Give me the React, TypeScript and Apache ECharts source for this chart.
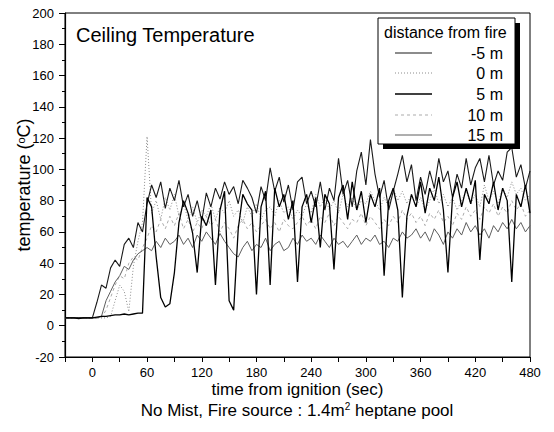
import React, { useEffect, useRef } from "react";
import * as echarts from "echarts";

const timeStart = -30;
const timeStep = 5;
const xTicks = [0, 60, 120, 180, 240, 300, 360, 420, 480];
const legendTitle = "distance from fire";
const seriesNames = ["-5 m", "0 m", "5 m", "10 m", "15 m"];

const dMinus5 = [5, 5, 5, 5, 5, 5, 5,
  15, 26, 24, 37, 42, 38, 52, 56, 50, 66,
  60, 78, 90, 82, 92, 75, 88, 80, 93, 76,
  84, 70, 80, 67, 85, 76, 88, 81, 92, 84,
  89, 78, 93, 88, 82, 72, 89, 80, 101, 86,
  95, 79, 90, 74, 92, 95, 78, 86, 76, 92,
  74, 88, 80, 107, 84, 93, 76, 99, 111, 90,
  119, 97, 82, 93, 74, 86, 97, 109, 92, 103,
  80, 95, 84, 99, 88, 107, 92, 99, 82, 97,
  88, 107, 90, 101, 107, 92, 109, 90, 99, 93,
  111, 114, 95, 103, 88, 99];
const d0 = [5, 5, 5, 5, 5, 5, 5, 5, 5, 5, 6,
  16, 26, 22, 9, 38, 54, 66, 121, 72, 80,
  68, 82, 74, 84, 70, 78, 68, 76, 66, 74,
  70, 78, 68, 76, 72, 80, 70, 74, 66, 76,
  70, 78, 68, 74, 76, 70, 80, 72, 76, 68,
  74, 70, 78, 72, 84, 76, 82, 74, 80, 72,
  84, 76, 82, 74, 80, 78, 86, 80, 74, 82,
  76, 88, 80, 86, 78, 84, 76, 82, 74, 80,
  88, 78, 84, 76, 82, 74, 80, 86, 78, 84,
  76, 90, 80, 86, 78, 88, 82, 92, 84, 88, 80, 84];
const d5 = [5, 5, 5, 4.5, 5, 5, 5, 5.5, 6, 6, 6.5, 7, 7, 7.5, 7, 7.5, 8, 8,
  82, 76, 44, 18, 12, 14, 34, 66, 80, 72,
  59, 34, 70, 64, 74, 26, 74, 86, 16, 10,
  62, 84, 78, 74, 20, 76, 86, 26, 88, 76,
  84, 68, 80, 28, 76, 84, 66, 82, 50, 84,
  78, 36, 82, 90, 68, 92, 74, 86, 66, 84,
  76, 88, 32, 80, 88, 74, 18, 70, 84, 76,
  92, 72, 88, 80, 95, 74, 34, 82, 92, 76,
  88, 78, 93, 42, 84, 78, 92, 74, 88, 80,
  28, 84, 76, 90, 72];
const d10 = [5, 5, 5, 5, 5, 5, 5, 5, 5,
  10, 18, 26, 32, 30, 40, 44, 42, 50, 56,
  64, 60, 68, 62, 70, 64, 72, 62, 68, 60,
  66, 62, 70, 64, 68, 60, 66, 62, 56, 64,
  68, 62, 66, 60, 64, 68, 62, 66, 60, 68,
  64, 62, 66, 70, 64, 68, 62, 70, 66, 72,
  64, 70, 66, 62, 68, 66, 72, 64, 70, 66,
  62, 68, 64, 70, 66, 74, 68, 72, 66, 70,
  64, 72, 68, 74, 66, 70, 64, 72, 68, 76,
  70, 74, 68, 76, 72, 78, 70, 76, 72, 80,
  74, 78, 70, 74];
const d15 = [5, 5, 5, 5, 5, 5, 5, 5, 6,
  16, 22, 28, 32, 38, 36, 42, 46, 48, 50,
  48, 54, 50, 56, 52, 54, 58, 52, 56, 50,
  58, 54, 60, 56, 52, 59, 54, 50, 46, 44,
  50, 54, 48, 52, 50, 56, 48, 52, 54, 48,
  50, 56, 52, 58, 54, 56, 52, 58, 54, 50,
  56, 52, 54, 50, 54, 58, 52, 56, 54, 58,
  52, 54, 50, 56, 54, 60, 56, 58, 62, 56,
  60, 54, 62, 58, 52, 60, 56, 62, 58, 66,
  60, 64, 58, 62, 56, 64, 60, 66, 62, 68,
  62, 66, 60, 64];

const seriesValues = [dMinus5, d0, d5, d10, d15];

const FONT = "'Liberation Sans', Arial, sans-serif";

const STYLES = [
  { color: "#1a1a1a", width: 1.1, dash: null as null | number[], z: 5 },
  { color: "#8c8c8c", width: 1, dash: [1, 2] as null | number[], z: 3 },
  { color: "#000", width: 1.3, dash: null as null | number[], z: 6 },
  { color: "#ababab", width: 1, dash: [3, 3] as null | number[], z: 2 },
  { color: "#5e5e5e", width: 1, dash: null as null | number[], z: 4 },
];

export default function App() {
  const ref = useRef<HTMLDivElement>(null);
  useEffect(() => {
    if (!ref.current) return;
    const chart = echarts.init(ref.current, undefined, { renderer: "svg" });
    const toPairs = (arr: number[]) => arr.map((v, i) => [timeStart + i * timeStep, v]);

    const rowY = [53, 73, 94, 115, 135];
    const legendGraphics: any[] = [
      { type: "rect", z: 100, shape: { x: 383, y: 23, width: 137, height: 126 }, style: { fill: "#000" } },
      { type: "rect", z: 101, shape: { x: 378, y: 18, width: 137, height: 126 }, style: { fill: "#fff", stroke: "#000", lineWidth: 1 } },
      {
        type: "text", z: 102, x: 384, y: 32,
        style: { text: legendTitle, fontSize: 16, fill: "#000", fontFamily: FONT, verticalAlign: "middle" },
      },
    ];
    seriesNames.forEach((name, i) => {
      const st = STYLES[i];
      legendGraphics.push({
        type: "line", z: 102,
        shape: { x1: 395, y1: rowY[i], x2: 432, y2: rowY[i] },
        style: { stroke: st.color, lineWidth: st.width, lineDash: st.dash || undefined },
      });
      legendGraphics.push({
        type: "text", z: 102, x: 503, y: rowY[i],
        style: { text: name, fontSize: 16, fill: "#000", fontFamily: FONT, align: "right", verticalAlign: "middle" },
      });
    });

    chart.setOption({
      animation: false,
      backgroundColor: "#fff",
      textStyle: { fontFamily: FONT },
      title: {
        text: "Ceiling Temperature",
        left: 71,
        top: 20,
        textStyle: { fontSize: 20, fontWeight: "normal", color: "#000", fontFamily: FONT },
      },
      grid: { left: 65, right: 24, top: 13, bottom: 75, show: true, borderColor: "#000", borderWidth: 1 },
      xAxis: {
        type: "value",
        min: -30,
        max: 480,
        interval: 30,
        name: "time from ignition (sec)",
        nameLocation: "middle",
        nameGap: 24,
        nameMoveOverlap: false,
        nameTextStyle: { fontSize: 17, color: "#000", fontFamily: FONT },
        axisLine: { onZero: false, lineStyle: { color: "#000", width: 1.2 } },
        axisTick: { length: 5, lineStyle: { color: "#000" } },
        axisLabel: {
          color: "#000",
          fontSize: 13,
          margin: 9,
          fontFamily: FONT,
          formatter: (v: number) => (xTicks.includes(v) ? String(v) : ""),
        },
        splitLine: { show: false },
      },
      yAxis: {
        type: "value",
        min: -20,
        max: 200,
        interval: 20,
        name: "temperature ({s|o}C)",
        nameLocation: "middle",
        nameGap: 32,
        nameMoveOverlap: false,
        nameTextStyle: {
          fontSize: 18,
          color: "#000",
          fontFamily: FONT,
          rich: { s: { fontSize: 11, verticalAlign: "top", lineHeight: 11, fontFamily: FONT, color: "#000" } },
        },
        axisLine: { onZero: false, lineStyle: { color: "#000", width: 1.2 } },
        axisTick: { length: 6, lineStyle: { color: "#000" } },
        minorTick: { show: true, splitNumber: 2, length: 3, lineStyle: { color: "#000" } },
        axisLabel: { color: "#000", fontSize: 13, margin: 11, fontFamily: FONT },
        splitLine: { show: false },
        minorSplitLine: { show: false },
      },
      graphic: [
        ...legendGraphics,
        {
          type: "text",
          z: 102,
          x: 297,
          y: 410,
          style: {
            text: "No Mist, Fire source : 1.4m{s|2} heptane pool",
            fontSize: 17,
            fill: "#000",
            fontFamily: FONT,
            align: "center",
            verticalAlign: "middle",
            rich: { s: { fontSize: 10, verticalAlign: "top", lineHeight: 10, fontFamily: FONT, fill: "#000" } },
          },
        },
      ],
      series: seriesNames.map((name, i) => ({
        name,
        type: "line",
        data: toPairs(seriesValues[i]),
        showSymbol: false,
        symbol: "none",
        z: STYLES[i].z,
        lineStyle: { color: STYLES[i].color, width: STYLES[i].width, type: STYLES[i].dash ? STYLES[i].dash : "solid" },
        itemStyle: { color: STYLES[i].color },
      })),
    });
    return () => chart.dispose();
  }, []);
  return <div ref={ref} style={{ position: "absolute", left: 0, top: 0, width: 554, height: 432 }} />;
}
